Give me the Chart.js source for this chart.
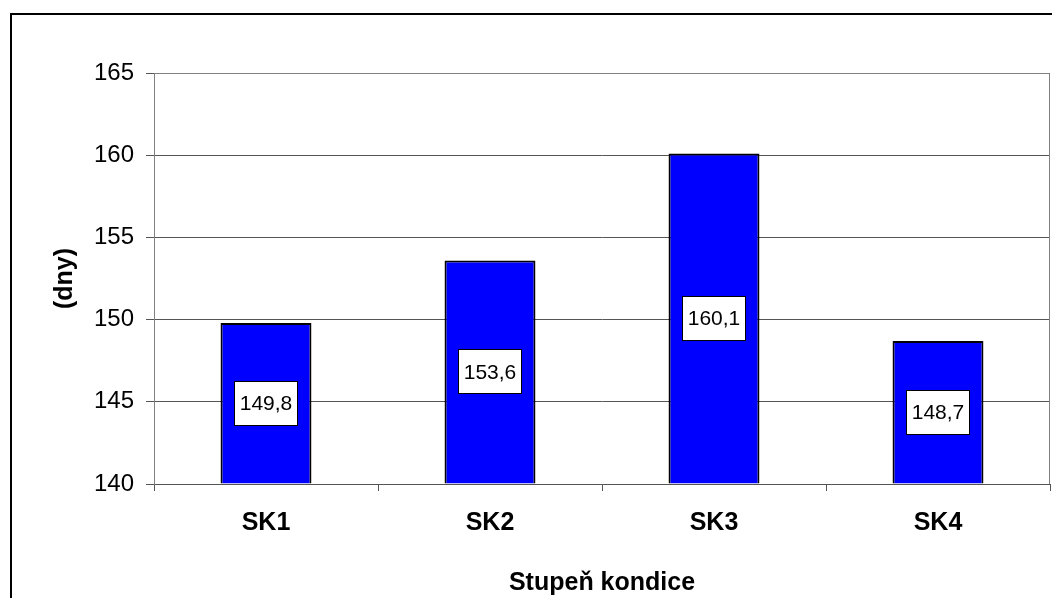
<!DOCTYPE html>
<html>
<head>
<meta charset="utf-8">
<script src="https://cdn.jsdelivr.net/npm/chart.js@4/dist/chart.umd.min.js"></script>
<style>
  html, body { margin: 0; padding: 0; background: #fff; }
  #wrap { width: 1052px; height: 598px; }
</style>
</head>
<body>
<div id="wrap"><canvas id="c" width="1052" height="598"></canvas></div>
<script>
// Průměrná délka (dny) podle stupně kondice
const categories = ['SK1', 'SK2', 'SK3', 'SK4'];
const values = [149.8, 153.6, 160.1, 148.7];
const yTicks = [140, 145, 150, 155, 160, 165];

const FONT = '"Liberation Sans", Arial, sans-serif';

// outer frame of the chart object
const framePlugin = {
  id: 'frame',
  beforeDraw(chart) {
    const ctx = chart.ctx;
    ctx.save();
    ctx.fillStyle = '#fff';
    ctx.fillRect(0, 0, chart.width, chart.height);
    ctx.strokeStyle = '#000';
    ctx.lineWidth = 2;
    ctx.beginPath();
    ctx.moveTo(11, chart.height + 2);
    ctx.lineTo(11, 14);
    ctx.lineTo(chart.width + 2, 14);
    ctx.stroke();
    ctx.restore();
  }
};

// plot area border and value boxes centred inside each bar
const valueBoxPlugin = {
  id: 'valueBox',
  afterDraw(chart) {
    const ctx = chart.ctx;
    const a = chart.chartArea;
    ctx.save();
    ctx.strokeStyle = '#808080';
    ctx.lineWidth = 1;
    ctx.beginPath();
    ctx.moveTo(Math.round(a.left) + 0.5, Math.round(a.top) + 0.5);
    ctx.lineTo(Math.round(a.right) - 0.5, Math.round(a.top) + 0.5);
    ctx.lineTo(Math.round(a.right) - 0.5, Math.round(a.bottom));
    ctx.stroke();

    const meta = chart.getDatasetMeta(0);
    ctx.font = '21px ' + FONT;
    ctx.textAlign = 'center';
    ctx.textBaseline = 'middle';
    meta.data.forEach((bar, i) => {
      const p = bar.getProps(['x', 'y', 'base'], true);
      const txt = values[i].toFixed(1).replace('.', ',');
      const cx = p.x;
      const cy = (p.y + p.base) / 2;
      const w = 64, h = 45;
      const x0 = Math.round(cx - w / 2), y0 = Math.round(cy - h / 2);
      ctx.fillStyle = '#fff';
      ctx.fillRect(x0, y0, w, h);
      ctx.strokeStyle = '#000';
      ctx.lineWidth = 1;
      ctx.strokeRect(x0 + 0.5, y0 + 0.5, w - 1, h - 1);
      ctx.fillStyle = '#000';
      ctx.fillText(txt, cx, cy + 1);
    });
    ctx.restore();
  }
};

new Chart(document.getElementById('c'), {
  type: 'bar',
  data: {
    labels: categories,
    datasets: [{
      data: values,
      base: yTicks[0],
      backgroundColor: '#0000FF',
      borderColor: '#000000',
      borderWidth: 2,
      borderSkipped: 'bottom',
      barPercentage: 0.406,
      categoryPercentage: 1.0
    }]
  },
  plugins: [framePlugin, valueBoxPlugin],
  options: {
    responsive: false,
    animation: false,
    devicePixelRatio: 1,
    layout: { padding: { top: 73, right: 2, left: 0, bottom: 0 } },
    plugins: { legend: { display: false }, tooltip: { enabled: false } },
    scales: {
      x: {
        grid: { offset: true, drawOnChartArea: false, tickLength: 7, color: '#555' },
        border: { color: '#555', width: 1 },
        ticks: { color: '#000', font: { family: FONT, size: 25, weight: 'bold' }, padding: 17 },
        title: { display: true, text: 'Stupeň kondice', color: '#000',
          font: { family: FONT, size: 25, weight: 'bold', lineHeight: 1 }, padding: { top: 0, bottom: 2 } },
        afterFit(scale) { scale.height = 114; }
      },
      y: {
        min: 140, max: 165,
        afterBuildTicks(scale) { scale.ticks = yTicks.map(v => ({ value: v })); },
        grid: { color: '#555', tickLength: 8 },
        border: { color: '#808080', width: 1 },
        ticks: { color: '#000', font: { family: FONT, size: 24 }, padding: 12 },
        title: { display: true, text: '(dny)', color: '#000',
          font: { family: FONT, size: 25, weight: 'bold', lineHeight: 1 }, padding: { top: 53, bottom: 0 } },
        afterFit(scale) { scale.width = 154; }
      }
    }
  }
});
</script>
</body>
</html>
